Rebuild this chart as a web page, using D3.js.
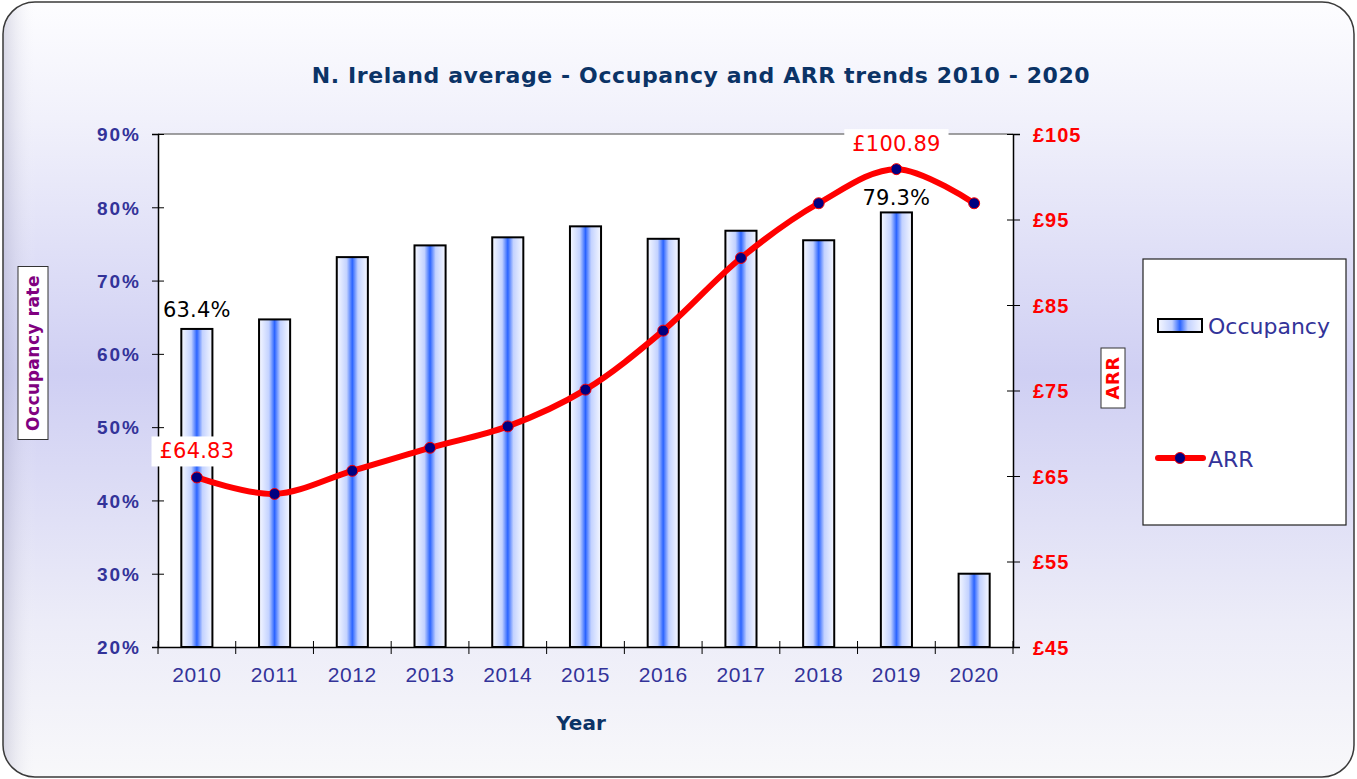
<!DOCTYPE html>
<html>
<head>
<meta charset="utf-8">
<script src="https://cdn.jsdelivr.net/npm/d3@7"></script>
<style>
  body { margin: 0; background: #ffffff; }
  svg { display: block; font-family: "DejaVu Sans", Verdana, sans-serif; }
</style>
</head>
<body>
<div id="chart"></div>
<script>
// data
var years = ["2010","2011","2012","2013","2014","2015","2016","2017","2018","2019","2020"];
var occupancy = [63.4, 64.7, 73.2, 74.8, 75.9, 77.4, 75.7, 76.8, 75.5, 79.3, 30.0];
var arr = [64.83, 62.9, 65.6, 68.3, 70.8, 75.1, 82.0, 90.5, 96.9, 100.89, 96.9];
var occTicks = [20, 30, 40, 50, 60, 70, 80, 90];
var arrTicks = [45, 55, 65, 75, 85, 95, 105];

var W = 1357, H = 779;
var margin = {top: 134, right: 344, bottom: 132, left: 158};

var svg = d3.select("#chart").append("svg")
  .attr("width", W).attr("height", H);

var defs = svg.append("defs");

// page background gradient (white -> lavender -> white)
var bg = defs.append("linearGradient").attr("id", "bgGrad")
  .attr("x1", 0).attr("y1", 0).attr("x2", 0).attr("y2", 1);
bg.append("stop").attr("offset", "0%").attr("stop-color", "#fdfdff");
bg.append("stop").attr("offset", "15%").attr("stop-color", "#f1f1fb");
bg.append("stop").attr("offset", "48%").attr("stop-color", "#cfcff3");
bg.append("stop").attr("offset", "80%").attr("stop-color", "#ececf8");
bg.append("stop").attr("offset", "100%").attr("stop-color", "#f8f8fa");

// left edge shading
var edge = defs.append("linearGradient").attr("id", "edgeGrad")
  .attr("x1", 0).attr("y1", 0).attr("x2", 1).attr("y2", 0);
edge.append("stop").attr("offset", "0%").attr("stop-color", "#9898b8").attr("stop-opacity", 0.35);
edge.append("stop").attr("offset", "100%").attr("stop-color", "#ffffff").attr("stop-opacity", 0);

defs.append("clipPath").attr("id", "pageClip")
  .append("rect")
  .attr("x", 3).attr("y", 2).attr("width", W - 6).attr("height", H - 4)
  .attr("rx", 32).attr("ry", 32);

// bar gradient (white edges, blue centre)
var bar = defs.append("linearGradient").attr("id", "barGrad")
  .attr("x1", 0).attr("y1", 0).attr("x2", 1).attr("y2", 0);
bar.append("stop").attr("offset", "0%").attr("stop-color", "#f6f8ff");
bar.append("stop").attr("offset", "32%").attr("stop-color", "#c3d2ff");
bar.append("stop").attr("offset", "50%").attr("stop-color", "#2b64ff");
bar.append("stop").attr("offset", "68%").attr("stop-color", "#c3d2ff");
bar.append("stop").attr("offset", "100%").attr("stop-color", "#f6f8ff");

svg.append("rect")
  .attr("x", 3).attr("y", 2).attr("width", W - 6).attr("height", H - 4)
  .attr("rx", 32).attr("ry", 32)
  .attr("fill", "url(#bgGrad)");
svg.append("rect")
  .attr("clip-path", "url(#pageClip)")
  .attr("x", 3).attr("y", 2).attr("width", 34).attr("height", H - 4)
  .attr("fill", "url(#edgeGrad)");
svg.append("rect")
  .attr("x", 3).attr("y", 2).attr("width", W - 6).attr("height", H - 4)
  .attr("rx", 32).attr("ry", 32)
  .attr("fill", "none").attr("stroke", "#3a3a3a").attr("stroke-width", 1.5);

var x0 = margin.left, x1 = 1013, yTop = margin.top, yBot = 647;

// scales
var x = d3.scaleBand().domain(years).range([x0, x1])
  .paddingInner(0.6).paddingOuter(0.3);
var yL = d3.scaleLinear().domain([20, 90]).range([yBot, yTop]);
var yR = d3.scaleLinear().domain([45, 105]).range([yBot, yTop]);

// plot area
svg.append("rect")
  .attr("x", x0).attr("y", yTop).attr("width", x1 - x0).attr("height", yBot - yTop)
  .attr("fill", "#ffffff");
svg.append("line")
  .attr("x1", x0).attr("x2", x1).attr("y1", yTop).attr("y2", yTop)
  .attr("stroke", "#808080").attr("stroke-width", 1.5);

// title
svg.append("text")
  .attr("x", 701).attr("y", 83)
  .attr("text-anchor", "middle")
  .style("font-size", "22px").style("font-weight", "bold")
  .style("letter-spacing", "0.6px")
  .style("fill", "#0b3366")
  .text("N. Ireland average - Occupancy and ARR trends 2010 - 2020");

// bars
svg.selectAll(".bar")
  .data(years)
  .enter().append("rect")
  .attr("class", "bar")
  .attr("x", function(d) { return x(d); })
  .attr("width", x.bandwidth())
  .attr("y", function(d, i) { return yL(occupancy[i]); })
  .attr("height", function(d, i) { return yBot - yL(occupancy[i]); })
  .attr("fill", "url(#barGrad)")
  .attr("stroke", "#000").attr("stroke-width", 2);

// left axis
var gL = svg.append("g").attr("transform", "translate(" + x0 + ",0)")
  .call(d3.axisLeft(yL).tickValues(occTicks).tickSize(6).tickPadding(11)
    .tickFormat(function(d) { return d + "%"; }));
gL.select(".domain").attr("stroke", "#000").attr("stroke-width", 1.5);
gL.selectAll(".tick line").attr("x1", 6).attr("stroke", "#000");
gL.selectAll("text")
  .style("font-size", "19px").style("font-weight", "bold")
  .style("letter-spacing", "2px")
  .style("fill", "#333399").attr("dy", "0.36em");

// right axis
var gR = svg.append("g").attr("transform", "translate(" + x1 + ",0)")
  .call(d3.axisRight(yR).tickValues(arrTicks).tickSize(7).tickPadding(13)
    .tickFormat(function(d) { return "£" + d; }));
gR.select(".domain").attr("stroke", "#000").attr("stroke-width", 1.5);
gR.selectAll(".tick line").attr("x1", -6).attr("stroke", "#000");
gR.selectAll("text")
  .style("font-size", "20px").style("font-weight", "bold")
  .style("letter-spacing", "1px")
  .style("fill", "#ff0000").attr("dy", "0.36em");

// bottom axis
var gB = svg.append("g").attr("transform", "translate(0," + yBot + ")")
  .call(d3.axisBottom(x).tickSize(0).tickPadding(20));
gB.select(".domain").attr("stroke", "#000").attr("stroke-width", 1.5);
gB.selectAll("text")
  .style("font-size", "21px").style("letter-spacing", "0.6px")
  .style("fill", "#333399");
var bounds = years.map(function(d) { return x(d) - (x.step() - x.bandwidth()) / 2; });
bounds.push(x1);
gB.selectAll(".btick").data(bounds).enter().append("line")
  .attr("x1", function(d) { return d; }).attr("x2", function(d) { return d; })
  .attr("y1", -6).attr("y2", 7)
  .attr("stroke", "#000");

// ARR line
var line = d3.line()
  .x(function(d, i) { return x(years[i]) + x.bandwidth() / 2; })
  .y(function(d) { return yR(d); })
  .curve(d3.curveCatmullRom.alpha(0.5));
svg.append("path")
  .datum(arr)
  .attr("d", line)
  .attr("fill", "none").attr("stroke", "#ff0000")
  .attr("stroke-width", 6).attr("stroke-linecap", "round");
svg.selectAll(".dot")
  .data(arr).enter().append("circle")
  .attr("class", "dot")
  .attr("cx", function(d, i) { return x(years[i]) + x.bandwidth() / 2; })
  .attr("cy", function(d) { return yR(d); })
  .attr("r", 5.5)
  .attr("fill", "#000080").attr("stroke", "#ff0000").attr("stroke-width", 1);

// data labels
function label(txt, cx, cy, color, boxed) {
  var g = svg.append("g");
  var t = g.append("text").attr("x", cx).attr("y", cy)
    .attr("text-anchor", "middle")
    .style("font-size", "21px").style("letter-spacing", "0.2px")
    .style("fill", color).text(txt);
  if (boxed) {
    var b = t.node().getBBox();
    g.insert("rect", "text")
      .attr("x", b.x - 8).attr("y", b.y - 3)
      .attr("width", b.width + 16).attr("height", b.height + 6)
      .attr("fill", "#ffffff");
  }
}
var c = function(i) { return x(years[i]) + x.bandwidth() / 2; };
label(occupancy[0] + "%", c(0), yL(occupancy[0]) - 12, "#000", false);
label(occupancy[9] + "%", c(9), yL(occupancy[9]) - 7, "#000", false);
label("£" + arr[0].toFixed(2), c(0), yR(arr[0]) - 19, "#ff0000", true);
label("£" + arr[9].toFixed(2), c(9), yR(arr[9]) - 18, "#ff0000", true);

// axis titles
function vTitle(txt, cx, cy, color, size, bw, bh) {
  var g = svg.append("g").attr("transform", "translate(" + cx + "," + cy + ") rotate(-90)");
  g.append("rect").attr("x", -bh / 2).attr("y", -bw / 2)
    .attr("width", bh).attr("height", bw)
    .attr("fill", "#fff").attr("stroke", "#333").attr("stroke-width", 1);
  g.append("text").attr("text-anchor", "middle").attr("dy", "0.36em")
    .style("font-size", size).style("font-weight", "bold")
    .style("letter-spacing", "0.5px")
    .style("fill", color).text(txt);
}
vTitle("Occupancy rate", 33, 353, "#800080", "17px", 30, 173);
vTitle("ARR", 1113, 378, "#ff0000", "18px", 24, 60);

svg.append("text")
  .attr("x", 581).attr("y", 730).attr("text-anchor", "middle")
  .style("font-size", "20px").style("font-weight", "bold")
  .style("fill", "#0b3366").text("Year");

// legend
var lg = svg.append("g");
lg.append("rect").attr("x", 1143).attr("y", 259).attr("width", 203).attr("height", 266)
  .attr("fill", "#fff").attr("stroke", "#222").attr("stroke-width", 1.2);
lg.append("rect").attr("x", 1158).attr("y", 319).attr("width", 44).attr("height", 13)
  .attr("fill", "url(#barGrad)").attr("stroke", "#000").attr("stroke-width", 2);
lg.append("text").attr("x", 1208).attr("y", 334)
  .style("font-size", "22px").style("fill", "#333399").text("Occupancy");
lg.append("line").attr("x1", 1158).attr("x2", 1203).attr("y1", 458).attr("y2", 458)
  .attr("stroke", "#ff0000").attr("stroke-width", 6).attr("stroke-linecap", "round");
lg.append("circle").attr("cx", 1180).attr("cy", 458).attr("r", 5.5)
  .attr("fill", "#000080").attr("stroke", "#ff0000");
lg.append("text").attr("x", 1208).attr("y", 467)
  .style("font-size", "22px").style("fill", "#333399").text("ARR");
</script>
</body>
</html>
